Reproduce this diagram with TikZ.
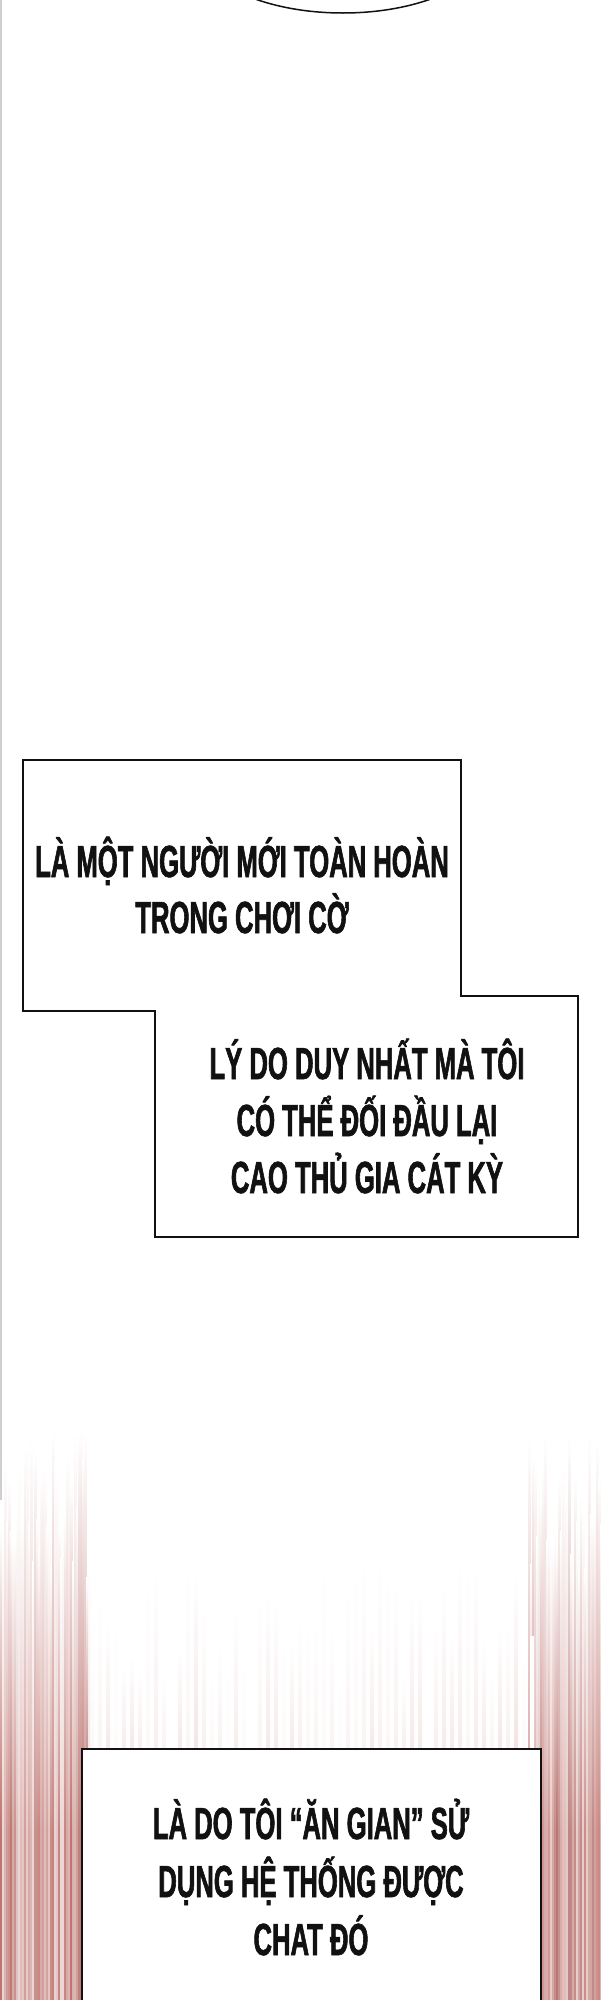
\documentclass[tikz,border=0pt]{standalone}
\usepackage{fontspec}
\newfontfamily\comic{Liberation Sans}[FakeStretch=0.57, FakeBold=1.3]
\definecolor{inkc}{HTML}{111111}
\definecolor{streak}{HTML}{C47670}
\definecolor{streakd}{HTML}{9E5552}
\definecolor{borderg}{HTML}{CFCFCF}
\tikzset{
  panel/.style={draw=inkc, line width=1.6pt, fill=white},
  txt/.style={font=\comic\bfseries\fontsize{45}{57}\selectfont, text=inkc, inner sep=0pt, anchor=base},
}
\begin{document}
\begin{tikzpicture}[x=1pt, y=-1pt]
\useasboundingbox (0,0) rectangle (600,2000);
\fill[white] (0,0) rectangle (600,2000);
% left page border
\fill[borderg] (0,0) rectangle (2,1500);
% red streaks, left band
\pgfmathsetseed{11}
\foreach \k in {0,...,44}{
  \pgfmathsetmacro\xx{\k*2}
  \pgfmathsetmacro\ty{1430+rnd*150}
  \pgfmathsetmacro\mix{int(25+rnd*75)}
  \pgfmathsetmacro\dk{int(rnd*60)}
  \shade[top color=white, bottom color=streakd!\dk!streak!\mix!white] (\xx,\ty) rectangle (\xx+2.3,1830);
  \fill[streakd!\dk!streak!\mix!white] (\xx,1829) rectangle (\xx+2.3,2000);
}
% red streaks, right band
\foreach \k in {0,...,36}{
  \pgfmathsetmacro\xx{528+\k*2}
  \pgfmathsetmacro\ty{1430+rnd*150}
  \pgfmathsetmacro\mix{int(25+rnd*75)}
  \pgfmathsetmacro\dk{int(rnd*70)}
  \shade[top color=white, bottom color=streakd!\dk!streak!\mix!white] (\xx,\ty) rectangle (\xx+2.3,1830);
  \fill[streakd!\dk!streak!\mix!white] (\xx,1829) rectangle (\xx+2.3,2000);
}
% faint streaks in the middle
\foreach \k in {0,...,55}{
  \pgfmathsetmacro\xx{90+\k*8}
  \pgfmathsetmacro\ty{1560+rnd*120}
  \pgfmathsetmacro\mix{int(rnd*22)}
  \shade[top color=white, bottom color=streak!\mix!white] (\xx,\ty) rectangle (\xx+4,1755);
}
% speech bubble at the top
\draw[draw=inkc, line width=1.5pt, fill=white] (343,-61) ellipse [x radius=150, y radius=74];
% first stepped panel
\draw[panel] (23,760) -- (461,760) -- (461,996) -- (578,996) -- (578,1237)
  -- (155,1237) -- (155,1011) -- (23,1011) -- cycle;
\node[txt] (a1) at (242,877) {LÀ MỘT NGƯỜI MỚI TOÀN HOÀN};
\node[txt] (a2) at (242,933) {TRONG CHƠI CỜ};
\node[txt] (b1) at (367,1079) {LÝ DO DUY NHẤT MÀ TÔI};
\node[txt] (b2) at (367,1136) {CÓ THỂ ĐỐI ĐẦU LẠI};
\node[txt] (b3) at (367,1193) {CAO THỦ GIA CÁT KỲ};
% bottom panel
\draw[panel] (82,1749) rectangle (541,2004);
\node[txt] (c1) at (311,1839) {LÀ DO TÔI “ĂN GIAN” SỬ};
\node[txt] (c2) at (311,1897) {DỤNG HỆ THỐNG ĐƯỢC};
\node[txt] (c3) at (311,1955) {CHAT ĐÓ};
\end{tikzpicture}
\end{document}
